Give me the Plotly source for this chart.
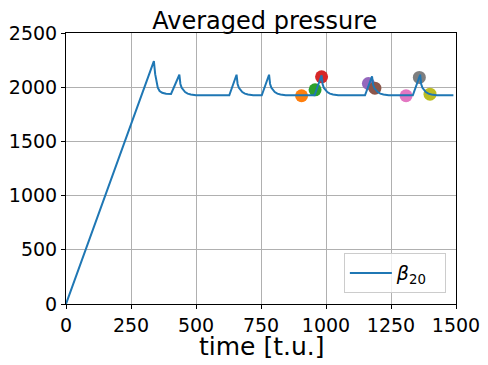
import plotly.graph_objects as go

# averaged pressure curve
time = [0, 338, 343, 348, 353, 360, 370, 385, 404,
        436, 440, 445, 450, 458, 468, 480, 500, 628,
        656, 660, 665, 670, 678, 688, 700, 720, 753,
        781, 785, 790, 795, 803, 813, 825, 845, 956,
        983, 987, 992, 997, 1005, 1015, 1027, 1047, 1150,
        1177, 1181, 1186, 1191, 1199, 1209, 1221, 1241, 1334,
        1362, 1366, 1371, 1376, 1384, 1394, 1406, 1426, 1490]
pressure = [0, 2240, 2120, 2040, 1995, 1965, 1948, 1940, 1938,
            2115, 2030, 1995, 1975, 1955, 1940, 1932, 1926, 1925,
            2115, 2030, 1995, 1975, 1955, 1940, 1932, 1926, 1925,
            2115, 2030, 1995, 1975, 1955, 1940, 1932, 1926, 1925,
            2110, 2028, 1993, 1974, 1955, 1940, 1932, 1926, 1925,
            2100, 2025, 1992, 1973, 1955, 1940, 1932, 1926, 1925,
            2115, 2030, 1995, 1975, 1955, 1940, 1932, 1926, 1925]

# sampled points
dot_t = [906, 958, 983, 1163, 1188, 1308, 1359, 1400]
dot_p = [1921, 1976, 2096, 2034, 1991, 1921, 2090, 1936]
dot_colors = ['#ff7f0e', '#2ca02c', '#d62728', '#9467bd',
              '#8c564b', '#e377c2', '#7f7f7f', '#bcbd22']

fig = go.Figure()

for t, p, c in zip(dot_t, dot_p, dot_colors):
    fig.add_trace(go.Scatter(x=[t], y=[p], mode='markers',
                             marker=dict(size=13, color=c),
                             showlegend=False))

fig.add_trace(go.Scatter(x=time, y=pressure, mode='lines',
                         line=dict(color='#1f77b4', width=2),
                         name='<i>β</i><sub>20</sub>  '))

axis_common = dict(
    showline=True, mirror=True, linecolor='black', linewidth=1,
    showgrid=True, gridcolor='#b0b0b0', gridwidth=1,
    ticks='outside', ticklen=4, tickcolor='black',
    tickfont=dict(size=19, color='black'),
    zeroline=False, automargin=False,
)

# page body has an 8px margin, so the figure is a bit smaller than the window
fig.update_layout(
    width=480, height=357,
    margin=dict(l=58, r=32, t=25, b=61),
    paper_bgcolor='white', plot_bgcolor='white',
    font=dict(family='DejaVu Sans', color='black'),
    title=dict(text='Averaged pressure', x=0.535, xanchor='center',
               y=1 - 12.5 / 357, yanchor='middle', font=dict(size=24)),
    xaxis=dict(range=[0, 1500], tickvals=[0, 250, 500, 750, 1000, 1250, 1500],
               **axis_common),
    yaxis=dict(range=[0, 2500], tickvals=[0, 500, 1000, 1500, 2000, 2500],
               **axis_common),
    legend=dict(x=0.974, xanchor='right', y=0.04, yanchor='bottom',
                bordercolor='#cccccc', borderwidth=1,
                bgcolor='rgba(255,255,255,0.8)',
                itemwidth=42,
                font=dict(size=19)),
)

# x axis label placed by hand
fig.add_annotation(text='time [t.u.]', xref='paper', yref='paper',
                   x=0.5, y=-42 / 271, xanchor='center', yanchor='middle',
                   showarrow=False, font=dict(size=25))

fig.write_html("out.html")
